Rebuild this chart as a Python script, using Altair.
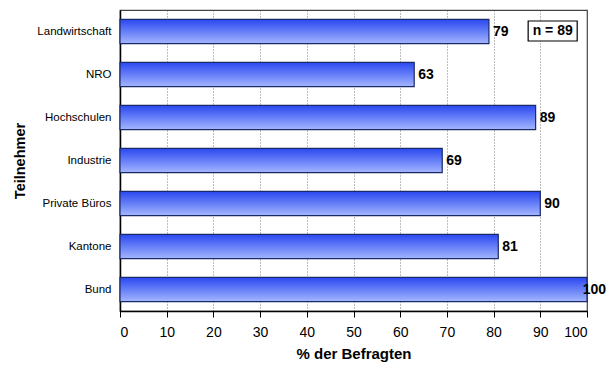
import altair as alt
import pandas as pd

categories = ["Landwirtschaft", "NRO", "Hochschulen", "Industrie", "Private Büros", "Kantone", "Bund"]
values = [79, 63, 89, 69, 90, 81, 100]
x_ticks = [0, 10, 20, 30, 40, 50, 60, 70, 80, 90, 100]
note_text = ["n = 89"]
note_x = [87.4, 97.9]

df = pd.DataFrame({"cat": categories, "value": values})
note_df = pd.DataFrame({"label": note_text, "x1": [note_x[0]], "x2": [note_x[1]], "xm": [(note_x[0] + note_x[1]) / 2]})

FONT = "Liberation Sans"

xscale = alt.Scale(domain=[0, 100], nice=False, zero=True)
yscale = alt.Scale(domain=categories, paddingInner=0.44, paddingOuter=0.22)

grad = alt.Gradient(
    gradient="linear",
    stops=[alt.GradientStop(color="#2a48f0", offset=0),
           alt.GradientStop(color="#a3b5ff", offset=1)],
    x1=0, x2=0, y1=0, y2=1,
)

bars = alt.Chart(df).mark_bar(color=grad, stroke="#1a2a66", strokeWidth=1.2).encode(
    x=alt.X("value:Q", scale=xscale,
            axis=alt.Axis(values=x_ticks, title="% der Befragten", grid=True,
                          gridDash=[1, 2], gridColor="#555555", gridWidth=0.8,
                          tickSize=6, tickColor="#000000", domainColor="#000000", domainWidth=1.5,
                          labelFontSize=14, labelFont=FONT, labelColor="#000000", labelPadding=8,
                          titleFont=FONT, titleFontSize=15, titleFontWeight="bold", titleColor="#000000",
                          titlePadding=7)),
    y=alt.Y("cat:N", scale=yscale, sort=categories,
            axis=alt.Axis(title="Teilnehmer", ticks=False, labelPadding=9,
                          domainColor="#000000", domainWidth=1.5,
                          labelFontSize=11.5, labelFont=FONT, labelColor="#000000",
                          titleFont=FONT, titleFontSize=14.5, titleFontWeight="bold", titleColor="#000000",
                          titlePadding=9)),
)

label_base = alt.Chart(df).encode(
    x=alt.X("value:Q", scale=xscale),
    y=alt.Y("cat:N", scale=yscale, sort=categories),
    text=alt.Text("value:Q"),
)
labels = label_base.mark_text(align="left", baseline="middle", fontSize=14, fontWeight="bold",
                              font=FONT, color="#000000", dx=4).transform_filter("datum.value < 100")
labels_full = label_base.mark_text(align="right", baseline="middle", fontSize=14, fontWeight="bold",
                                   font=FONT, color="#000000", dx=19).transform_filter("datum.value >= 100")

box = alt.Chart(note_df).mark_rect(fill="white", stroke="#000000", strokeWidth=1.2).encode(
    x=alt.X("x1:Q", scale=xscale),
    x2="x2:Q",
    y=alt.value(11),
    y2=alt.value(31),
)

note = alt.Chart(note_df).mark_text(fontSize=14, fontWeight="bold", font=FONT, color="#000000",
                                    baseline="middle").encode(
    x=alt.X("xm:Q", scale=xscale),
    y=alt.value(21),
    text="label:N",
)

chart = alt.layer(bars, labels, labels_full, box, note).properties(
    width=467, height=301,
    autosize=alt.AutoSizeParams(type="none"),
    padding={"left": 120, "top": 10, "right": 23, "bottom": 56},
    background="white",
).configure_view(stroke="#444444", strokeWidth=1.2)

chart.save("out.html", embed_options={"renderer": "svg", "actions": False})
